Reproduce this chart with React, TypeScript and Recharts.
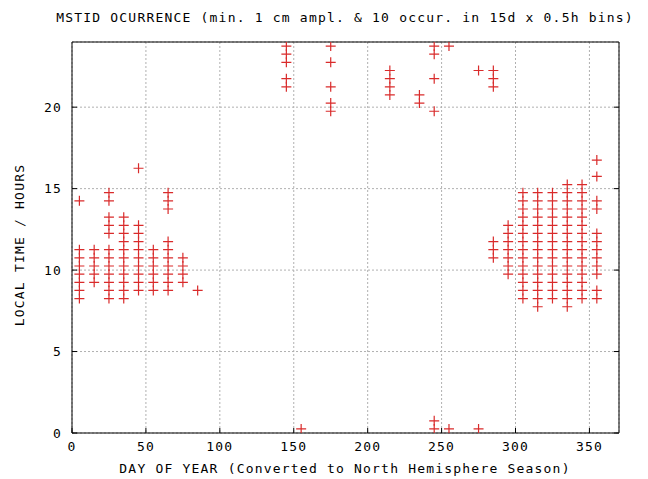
import React from 'react';
import {
  CartesianGrid,
  Scatter,
  ScatterChart,
  XAxis,
  YAxis,
} from 'recharts';

// 15-day bins (centres), one list of half-hour bin centres per bin
const binDays = [5, 15, 25, 35, 45, 55, 65, 75, 85, 145, 155, 175, 215, 235, 245, 255, 275, 285, 295, 305, 315, 325, 335, 345, 355];

const binHours: number[][] = [
  [8.25, 8.75, 9.25, 9.75, 10.25, 10.75, 11.25, 14.25],
  [9.25, 9.75, 10.25, 10.75, 11.25],
  [8.25, 8.75, 9.25, 9.75, 10.25, 10.75, 11.25, 12.25, 12.75, 13.25, 14.25, 14.75],
  [8.25, 8.75, 9.25, 9.75, 10.25, 10.75, 11.25, 11.75, 12.25, 12.75, 13.25],
  [8.75, 9.25, 9.75, 10.25, 10.75, 11.25, 11.75, 12.25, 12.75, 16.25],
  [8.75, 9.25, 9.75, 10.25, 10.75, 11.25],
  [8.75, 9.25, 9.75, 10.25, 10.75, 11.25, 11.75, 13.75, 14.25, 14.75],
  [9.25, 9.75, 10.25, 10.75],
  [8.75],
  [21.25, 21.75, 22.75, 23.25, 23.75],
  [0.25],
  [19.75, 20.25, 21.25, 22.75, 23.75],
  [20.75, 21.25, 21.75, 22.25],
  [20.25, 20.75],
  [0.25, 0.75, 19.75, 21.75, 23.25, 23.75],
  [0.25, 23.75],
  [0.25, 22.25],
  [10.75, 11.25, 11.75, 21.25, 21.75, 22.25],
  [9.75, 10.25, 10.75, 11.25, 11.75, 12.25, 12.75],
  [8.25, 8.75, 9.25, 9.75, 10.25, 10.75, 11.25, 11.75, 12.25, 12.75, 13.25, 13.75, 14.25, 14.75],
  [7.75, 8.25, 8.75, 9.25, 9.75, 10.25, 10.75, 11.25, 11.75, 12.25, 12.75, 13.25, 13.75, 14.25, 14.75],
  [8.25, 8.75, 9.25, 9.75, 10.25, 10.75, 11.25, 11.75, 12.25, 12.75, 13.25, 13.75, 14.25, 14.75],
  [7.75, 8.25, 8.75, 9.25, 9.75, 10.25, 10.75, 11.25, 11.75, 12.25, 12.75, 13.25, 13.75, 14.25, 14.75, 15.25],
  [8.25, 8.75, 9.25, 9.75, 10.25, 10.75, 11.25, 11.75, 12.25, 12.75, 13.25, 13.75, 14.25, 14.75, 15.25],
  [8.25, 8.75, 9.75, 10.25, 10.75, 11.25, 11.75, 12.25, 13.75, 14.25, 15.75, 16.75],
];

const xTicks = [0, 50, 100, 150, 200, 250, 300, 350];
const yTicks = [0, 5, 10, 15, 20];

const points = binDays.flatMap((day, i) =>
  binHours[i].map((hour) => ({ day, hour }))
);

const FONT = '"DejaVu Sans Mono", monospace';
const RED = '#d92b2b';

const tickStyle = { fontFamily: FONT, fontSize: 13, fill: '#000', letterSpacing: 1.2 };

const Plus = ({ cx, cy }: any) => (
  <path
    d={`M${cx - 5},${cy}h10M${cx},${cy - 5}v10`}
    stroke={RED}
    strokeWidth={1.2}
    fill="none"
  />
);

const labelStyle: React.CSSProperties = {
  position: 'absolute',
  fontFamily: FONT,
  fontSize: 13,
  lineHeight: '14px',
  letterSpacing: 1.2,
  color: '#000',
  textAlign: 'center',
  whiteSpace: 'nowrap',
};

export default function App() {
  return (
    <div style={{ position: 'absolute', left: 0, top: 0, width: 648, height: 479, background: '#fff' }}>
      <ScatterChart
        width={648}
        height={479}
        margin={{ top: 40, right: 27, bottom: 16, left: 12 }}
      >
        <CartesianGrid stroke="#b0b0b0" strokeDasharray="2 2" />
        <XAxis
          type="number"
          dataKey="day"
          domain={[0, 370]}
          ticks={xTicks}
          height={30}
          stroke="#000"
          tickSize={-5}
          tickMargin={14}
          tick={tickStyle}
          allowDataOverflow
        />
        <XAxis
          xAxisId="top"
          orientation="top"
          type="number"
          domain={[0, 370]}
          ticks={xTicks}
          height={2}
          stroke="#000"
          tickSize={-5}
          tickFormatter={() => ''}
          allowDataOverflow
        />
        <YAxis
          type="number"
          dataKey="hour"
          domain={[0, 24]}
          ticks={yTicks}
          width={60}
          stroke="#000"
          tickSize={-5}
          tickMargin={15}
          tick={tickStyle}
          allowDataOverflow
        />
        <YAxis
          yAxisId="right"
          orientation="right"
          type="number"
          domain={[0, 24]}
          ticks={yTicks}
          width={2}
          stroke="#000"
          tickSize={-5}
          tickFormatter={() => ''}
          allowDataOverflow
        />
        <Scatter data={points} shape={<Plus />} isAnimationActive={false} />
      </ScatterChart>
      <div style={{ ...labelStyle, left: 45, top: 11, width: 600 }}>
        MSTID OCURRENCE (min. 1 cm ampl. &amp; 10 occur. in 15d x 0.5h bins)
      </div>
      <div style={{ ...labelStyle, left: 45, top: 462, width: 600 }}>
        DAY OF YEAR (Converted to North Hemisphere Season)
      </div>
      <div
        style={{
          ...labelStyle,
          left: 20 - 100,
          top: 245 - 7,
          width: 200,
          transform: 'rotate(-90deg)',
        }}
      >
        LOCAL TIME / HOURS
      </div>
    </div>
  );
}
